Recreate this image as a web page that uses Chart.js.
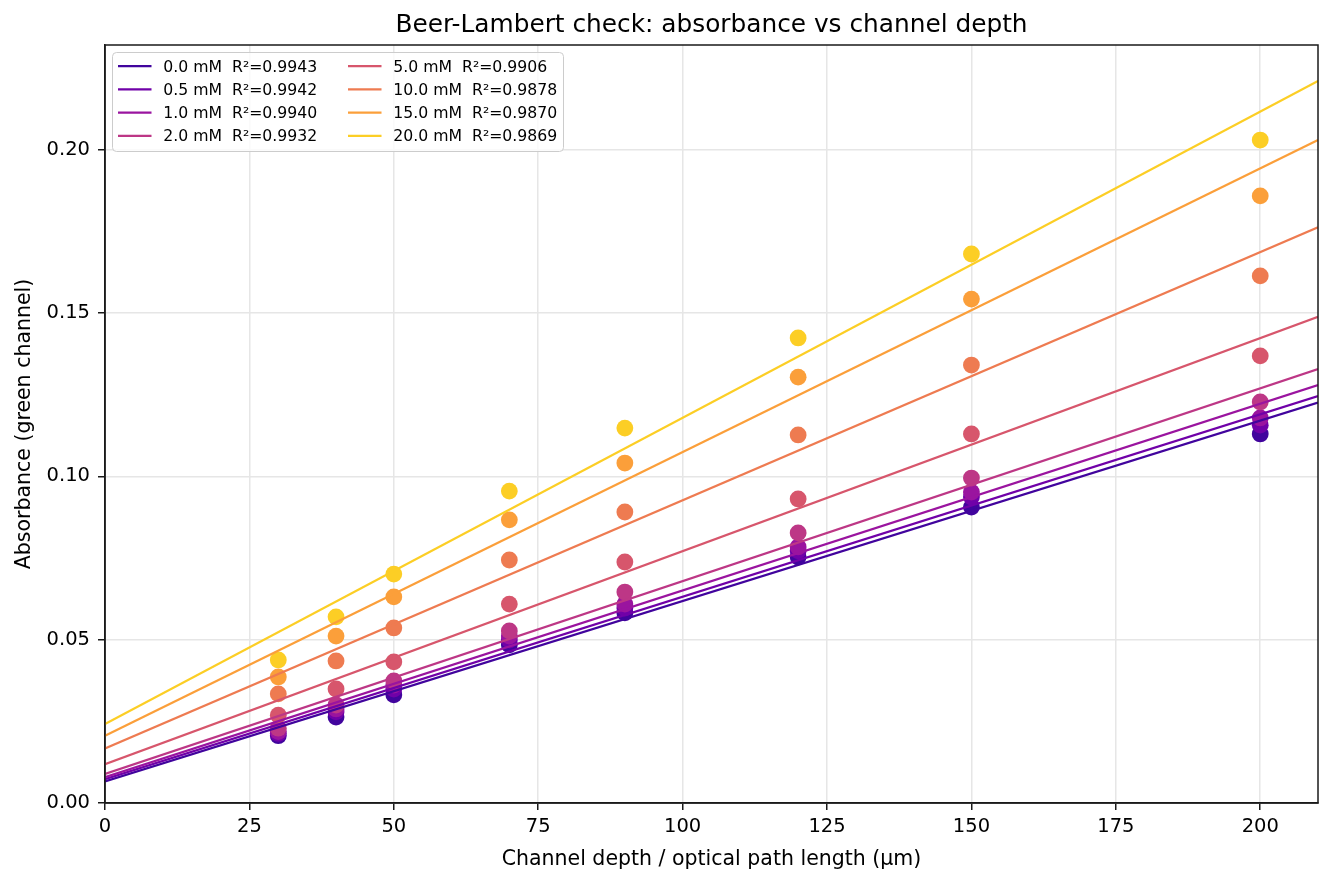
<!DOCTYPE html>
<html lang="en">
<head>
<meta charset="UTF-8">
<title>Beer-Lambert check</title>
<script src="https://cdn.jsdelivr.net/npm/chart.js"></script>
<style>
  body { margin: 0; background: #fff; }
  #wrap { width: 1334px; height: 883px; }
</style>
</head>
<body>
<div id="wrap"><canvas id="chart" width="1334" height="883"></canvas></div>
<script>
// measured depths (µm) and the dye concentrations (mM)
const depths = [30, 40, 50, 70, 90, 120, 150, 200];
const concentrations = [0.0, 0.5, 1.0, 2.0, 5.0, 10.0, 15.0, 20.0];
const rSquared = [0.9943, 0.9942, 0.9940, 0.9932, 0.9906, 0.9878, 0.9870, 0.9869];

// absorbance (green channel), one array per concentration
const abs00 = [0.0206, 0.0263, 0.0331, 0.0484, 0.0582, 0.0753, 0.0906, 0.1130];
const abs05 = [0.0213, 0.0279, 0.0349, 0.0499, 0.0597, 0.0772, 0.0937, 0.1157];
const abs10 = [0.0219, 0.0288, 0.0361, 0.0511, 0.0609, 0.0784, 0.0952, 0.1179];
const abs20 = [0.0229, 0.0300, 0.0374, 0.0527, 0.0646, 0.0827, 0.0995, 0.1228];
const abs50 = [0.0269, 0.0349, 0.0432, 0.0609, 0.0738, 0.0931, 0.1130, 0.1369];
const abs100 = [0.0334, 0.0435, 0.0536, 0.0744, 0.0891, 0.1127, 0.1341, 0.1614];
const abs150 = [0.0386, 0.0511, 0.0631, 0.0867, 0.1041, 0.1304, 0.1543, 0.1859];
const abs200 = [0.0438, 0.0570, 0.0701, 0.0955, 0.1148, 0.1424, 0.1681, 0.2030];

// fitted lines, read at both ends of the x range
const fitDepths = [0, 210];
const fitStart = [0.0066, 0.0073, 0.0079, 0.0089, 0.0119, 0.0167, 0.0206, 0.0242];
const fitEnd = [0.1226, 0.1246, 0.1280, 0.1329, 0.1489, 0.1763, 0.2030, 0.2211];

const xTicks = [0, 25, 50, 75, 100, 125, 150, 175, 200];
const yTicks = [0, 0.05, 0.10, 0.15, 0.20];

const palette = ['#41049d', '#7001a8', '#9a149f', '#bd3786', '#d7566c', '#ee7b51', '#fb9f3a', '#fcce25'];
const seriesValues = [abs00, abs05, abs10, abs20, abs50, abs100, abs150, abs200];

Chart.defaults.font.family = '"DejaVu Sans", sans-serif';
Chart.defaults.color = '#000';

const datasets = [];
concentrations.forEach((c, i) => {
    datasets.push({
        label: c.toFixed(1) + ' mM',
        data: depths.map((d, j) => ({x: d, y: seriesValues[i][j]})),
        backgroundColor: palette[i],
        borderWidth: 0,
        pointRadius: 8.4,
        pointHoverRadius: 8.4,
        order: 100 - i
    });
    datasets.push({
        label: c.toFixed(1) + ' mM  R\u00b2=' + rSquared[i].toFixed(4),
        data: fitDepths.map((d, k) => ({x: d, y: k === 0 ? fitStart[i] : fitEnd[i]})),
        showLine: true,
        borderColor: palette[i],
        borderWidth: 2.2,
        pointRadius: 0,
        order: 50 - i,
        isFit: true
    });
});

// title centred over the plot area, like the original
const plotTitle = {
    id: 'plotTitle',
    afterDraw(chart) {
        const {ctx, chartArea: a} = chart;
        ctx.save();
        ctx.font = '24.8px "DejaVu Sans"';
        ctx.fillStyle = '#000';
        ctx.textAlign = 'center';
        ctx.textBaseline = 'middle';
        ctx.fillText('Beer-Lambert check: absorbance vs channel depth', (a.left + a.right) / 2, 26);
        ctx.restore();
    }
};

// legend in two columns, filled column by column
const legendBox = {
    id: 'legendBox',
    afterDraw(chart) {
        const ctx = chart.ctx;
        const fits = chart.data.datasets.filter(d => d.isFit);
        ctx.save();
        ctx.beginPath();
        ctx.roundRect(112.5, 52.5, 451, 99, 4);
        ctx.fillStyle = 'rgba(255,255,255,0.8)';
        ctx.fill();
        ctx.strokeStyle = '#cccccc';
        ctx.lineWidth = 1;
        ctx.stroke();
        ctx.font = '15.7px "DejaVu Sans"';
        ctx.textBaseline = 'alphabetic';
        fits.forEach((ds, i) => {
            const col = Math.floor(i / 4), row = i % 4;
            const x = col === 0 ? 118 : 348;
            const y = 71.7 + row * 23.2;
            ctx.strokeStyle = ds.borderColor;
            ctx.lineWidth = 2.2;
            ctx.beginPath();
            ctx.moveTo(x, y - 5.5);
            ctx.lineTo(x + 33.5, y - 5.5);
            ctx.stroke();
            ctx.fillStyle = '#000';
            ctx.fillText(ds.label, x + 45.3, y);
        });
        ctx.restore();
    }
};

// top and right spines
const frame = {
    id: 'frame',
    afterDatasetsDraw(chart) {
        const {ctx, chartArea: a} = chart;
        ctx.save();
        ctx.strokeStyle = '#1a1a1a';
        ctx.lineWidth = 1.5;
        ctx.strokeRect(a.left, a.top, a.right - a.left, a.bottom - a.top);
        ctx.restore();
    }
};

new Chart(document.getElementById('chart'), {
    type: 'scatter',
    data: {datasets: datasets},
    plugins: [frame, legendBox, plotTitle],
    options: {
        responsive: false,
        animation: false,
        devicePixelRatio: 1,
        layout: {padding: {top: 45, right: 16}},
        plugins: {
            legend: {display: false},
            tooltip: {enabled: false},
            title: {display: false}
        },
        scales: {
            x: {
                type: 'linear',
                min: 0,
                max: 210,
                afterBuildTicks: s => { s.ticks = xTicks.map(v => ({value: v})); },
                afterFit: s => { s.height = 80; },
                ticks: {font: {size: 19.5}, color: '#000', padding: 5, maxRotation: 0, callback: v => String(v)},
                grid: {color: '#e6e6e6', lineWidth: 1.5, tickColor: '#1a1a1a', tickLength: 7, tickWidth: 1.5},
                border: {color: '#1a1a1a', width: 1.5},
                title: {
                    display: true,
                    text: 'Channel depth / optical path length (\u00b5m)',
                    font: {size: 20.5},
                    color: '#000',
                    padding: {top: 0, bottom: 11}
                }
            },
            y: {
                type: 'linear',
                min: 0,
                max: 0.2321,
                afterBuildTicks: s => { s.ticks = yTicks.map(v => ({value: v})); },
                afterFit: s => { s.width = 105; },
                ticks: {font: {size: 19.5}, color: '#000', padding: 8, callback: v => v.toFixed(2)},
                grid: {color: '#e6e6e6', lineWidth: 1.5, tickColor: '#1a1a1a', tickLength: 7, tickWidth: 1.5},
                border: {color: '#1a1a1a', width: 1.5},
                title: {
                    display: true,
                    text: 'Absorbance (green channel)',
                    font: {size: 20.5},
                    color: '#000',
                    padding: {top: 12, bottom: 0}
                }
            }
        }
    }
});
</script>
</body>
</html>
